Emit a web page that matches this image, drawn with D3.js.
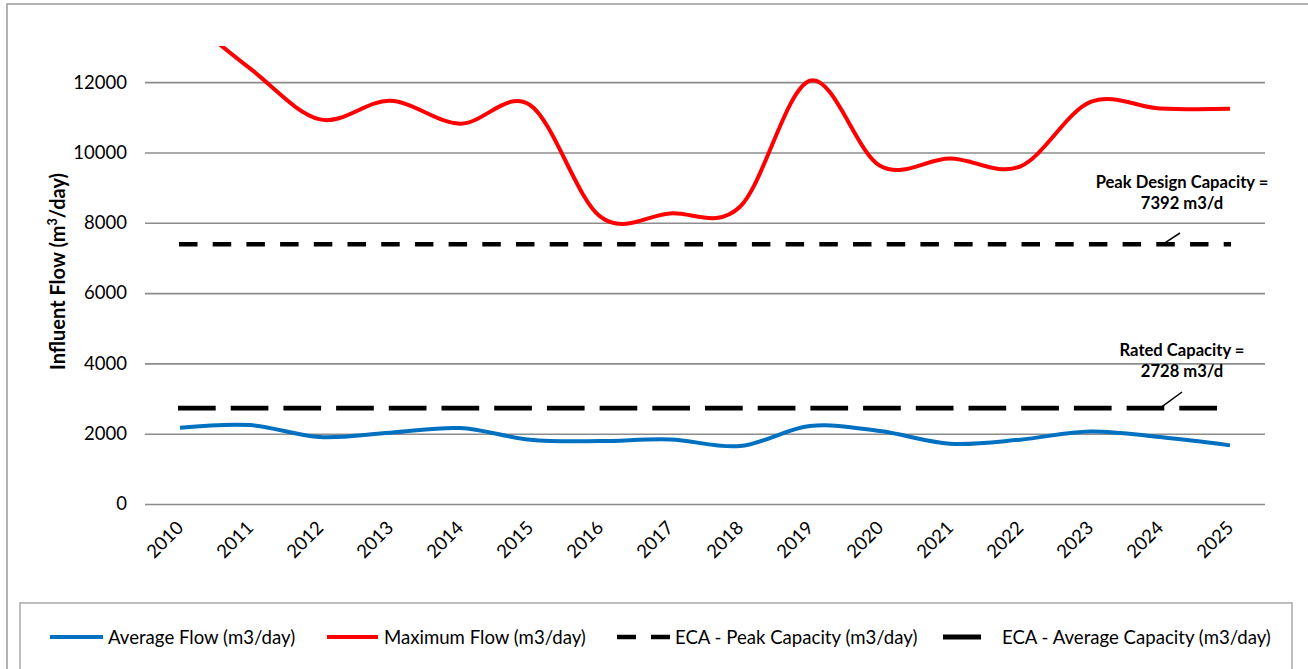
<!DOCTYPE html>
<html>
<head>
<meta charset="utf-8">
<script src="https://cdn.jsdelivr.net/npm/d3@7"></script>
<style>
  body { margin: 0; background: #fff; }
  svg { display: block; }
  text { font-family: Lato, "Open Sans", sans-serif; fill: #000; }
</style>
</head>
<body>
<svg id="chart" width="1308" height="669"></svg>
<script>
// ---- data -------------------------------------------------------------
const years = ["2010","2011","2012","2013","2014","2015","2016","2017",
               "2018","2019","2020","2021","2022","2023","2024","2025"];
const averageFlow = [2170, 2245, 1903, 2028, 2160, 1830, 1790, 1838,
                     1648, 2217, 2075, 1716, 1830, 2065, 1903, 1668];
const maximumFlow = [14000, 12390, 10940, 11470, 10820, 11350, 8180, 8266,
                     8454, 12040, 9620, 9830, 9600, 11430, 11252, 11240];
const peakDesignCapacity = 7392;   // ECA - Peak Capacity (m3/day)
const ratedCapacity = 2728;        // ECA - Average Capacity (m3/day)
const yTicks = [0, 2000, 4000, 6000, 8000, 10000, 12000];
const yMax = 13000;
const legendLabels = ["Average Flow (m3/day)", "Maximum Flow (m3/day)",
                      "ECA - Peak Capacity (m3/day)", "ECA - Average Capacity (m3/day)"];

// ---- layout -----------------------------------------------------------
const svg = d3.select("#chart");
const plot = { left: 145, right: 1265, top: 47, bottom: 504 };
const FONT = "Lato, 'Open Sans', sans-serif";

const x = d3.scalePoint().domain(years).range([plot.left, plot.right]).padding(0.5);
const y = d3.scaleLinear().domain([0, yMax]).range([plot.bottom, plot.top]);

// chart frame
svg.append("rect")
  .attr("x", 7).attr("y", 4).attr("width", 1330).attr("height", 700)
  .attr("fill", "none").attr("stroke", "#9a9a9a").attr("stroke-width", 1.5);

// gridlines + y tick labels
const yAxis = d3.axisLeft(y).tickValues(yTicks)
  .tickSize(-(plot.right - plot.left)).tickPadding(18).tickFormat(d3.format("d"));
const gy = svg.append("g").attr("transform", `translate(${plot.left},0)`).call(yAxis);
gy.select(".domain").remove();
gy.selectAll(".tick line").attr("stroke", "#8c8c8c").attr("stroke-width", 1.6);
gy.selectAll(".tick text").attr("font-size", 18.5).attr("fill", "#000")
  .attr("font-family", FONT);

// x tick labels (rotated)
const xAxis = d3.axisBottom(x).tickSize(0).tickPadding(0);
const gx = svg.append("g").attr("transform", `translate(0,${plot.bottom})`).call(xAxis);
gx.select(".domain").remove();
gx.selectAll(".tick text")
  .attr("font-size", 18.5).attr("fill", "#000")
  .attr("font-family", FONT)
  .attr("text-anchor", "end")
  .attr("dy", null).attr("y", null)
  .attr("transform", "translate(4,25) rotate(-45)");

// y axis title
const yTitle = svg.append("text")
  .attr("transform", `translate(65,${(plot.top + plot.bottom) / 2 - 4}) rotate(-90)`)
  .attr("text-anchor", "middle").attr("font-size", 20).attr("font-weight", "bold");
yTitle.append("tspan").text("Influent Flow (m");
yTitle.append("tspan").text("3").attr("font-size", 12.5).attr("dy", -8);
yTitle.append("tspan").text("/day)").attr("dy", 8);

// clip region for the plotted series
svg.append("clipPath").attr("id", "plot-clip")
  .append("rect").attr("x", plot.left).attr("y", plot.top - 1)
  .attr("width", plot.right - plot.left).attr("height", plot.bottom - plot.top + 40);

const series = svg.append("g").attr("clip-path", "url(#plot-clip)");
const smooth = d3.line()
  .x((d, i) => x(years[i])).y(d => y(d))
  .curve(d3.curveCatmullRom.alpha(0));

// capacity lines
const first = years[0], last = years[years.length - 1];
series.append("line")
  .attr("x1", x(first) - 1).attr("x2", x(last) + 1)
  .attr("y1", y(peakDesignCapacity)).attr("y2", y(peakDesignCapacity))
  .attr("stroke", "#000").attr("stroke-width", 4.5).attr("stroke-dasharray", "18.5,15.2");
series.append("line")
  .attr("x1", x(first) - 2).attr("x2", x(last))
  .attr("y1", y(ratedCapacity)).attr("y2", y(ratedCapacity))
  .attr("stroke", "#000").attr("stroke-width", 4.8).attr("stroke-dasharray", "37.7,15");

// flow series
series.append("path").datum(averageFlow).attr("d", smooth)
  .attr("fill", "none").attr("stroke", "#0070c0").attr("stroke-width", 4);
series.append("path").datum(maximumFlow).attr("d", smooth)
  .attr("fill", "none").attr("stroke", "#ff0000").attr("stroke-width", 4);

// capacity annotations
function annotate(value, title, yTop, lineFrom, lineTo) {
  const cx = 1182;
  svg.append("text").attr("x", cx).attr("y", yTop).attr("text-anchor", "middle")
    .attr("font-size", 16.6).attr("font-weight", "bold").text(title);
  svg.append("text").attr("x", cx).attr("y", yTop + 21).attr("text-anchor", "middle")
    .attr("font-size", 16.6).attr("font-weight", "bold").text(`${value} m3/d`);
  svg.append("line")
    .attr("x1", lineFrom[0]).attr("y1", lineFrom[1])
    .attr("x2", lineTo[0]).attr("y2", y(value))
    .attr("stroke", "#000").attr("stroke-width", 1.5);
}
annotate(peakDesignCapacity, "Peak Design Capacity =", 188, [1180, 233], [1163]);
annotate(ratedCapacity, "Rated Capacity =", 356, [1182, 392], [1160]);

// legend
svg.append("rect").attr("x", 20).attr("y", 603).attr("width", 1272).attr("height", 90)
  .attr("fill", "#fff").attr("stroke", "#bdbdbd").attr("stroke-width", 2);
const legendY = 637;
const legendItems = [
  { sw: [50, 103],  tx: 108,  color: "#0070c0", w: 4,   dash: null },
  { sw: [327, 378], tx: 384,  color: "#ff0000", w: 4,   dash: null },
  { sw: [617, 670], tx: 675,  color: "#000",    w: 4.5, dash: "19,15" },
  { sw: [943, 981], tx: 1002, color: "#000",    w: 4.8, dash: null }
];
legendItems.forEach((it, i) => {
  svg.append("line").attr("x1", it.sw[0]).attr("x2", it.sw[1])
    .attr("y1", legendY).attr("y2", legendY)
    .attr("stroke", it.color).attr("stroke-width", it.w)
    .attr("stroke-dasharray", it.dash);
  svg.append("text").attr("x", it.tx).attr("y", legendY + 6.5)
    .attr("font-size", 18.6).text(legendLabels[i]);
});
</script>
</body>
</html>
